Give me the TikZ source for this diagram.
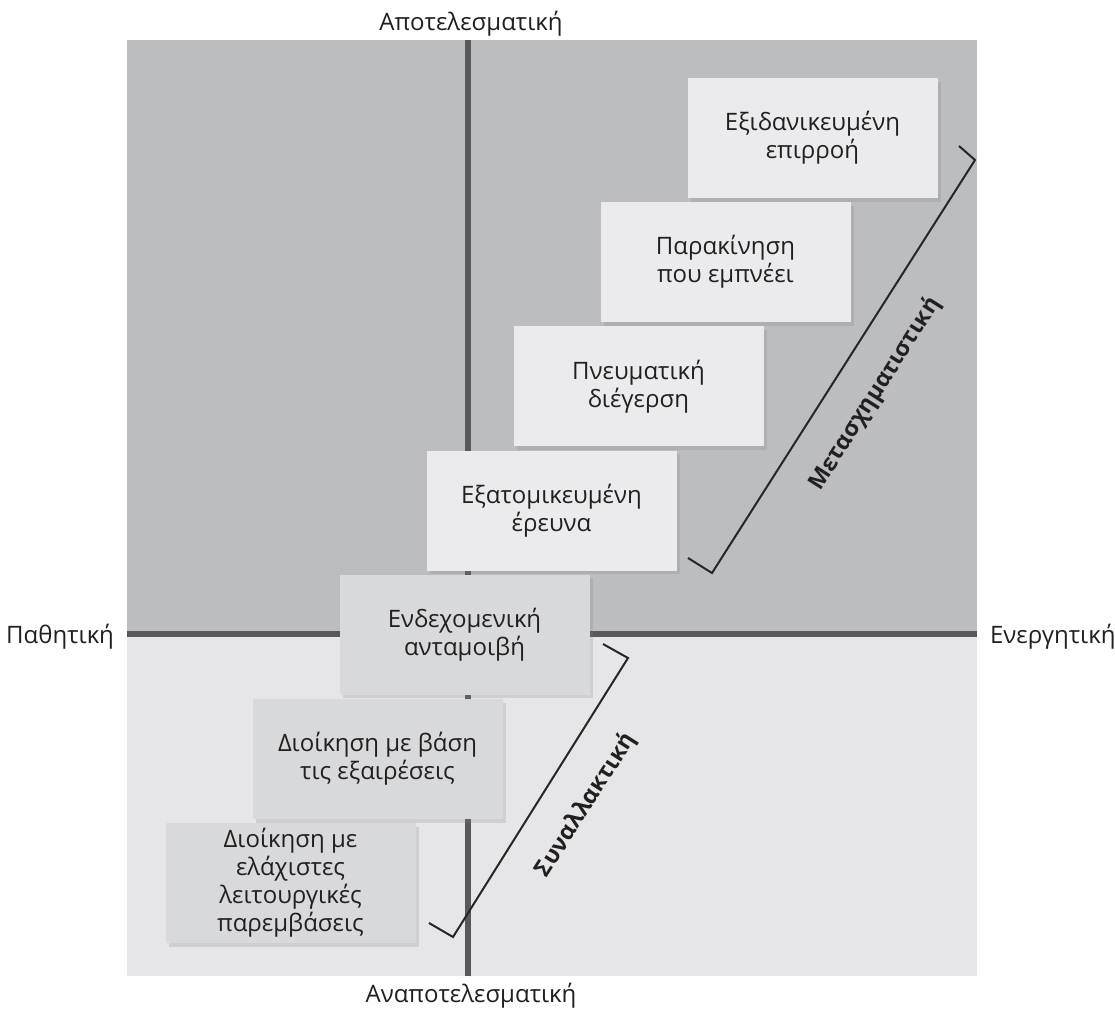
\documentclass[tikz,border=0pt]{standalone}
\usepackage{fontspec}
\setmainfont{Open Sans}
\usetikzlibrary{positioning,shadows}

\definecolor{bgtop}{HTML}{BCBDC0}
\definecolor{bgbottom}{HTML}{E6E6E8}
\definecolor{axisgray}{HTML}{58595B}
\definecolor{boxlight}{HTML}{EBEBED}
\definecolor{boxmid}{HTML}{D8D9DB}
\definecolor{textdark}{HTML}{231F20}

\begin{document}
\begin{tikzpicture}[
        x=0.5pt, y=-0.5pt,
        node distance=1.7pt,
        level/.style={rectangle, fill=boxlight, minimum width=125pt, minimum height=60pt, inner sep=1pt, align=center, text=textdark, font=\fontsize{12}{14}\selectfont, drop shadow={shadow xshift=1.5pt, shadow yshift=-1.8pt, opacity=0.22}},
        lowlevel/.style={level, fill=boxmid},
        axis/.style={draw=axisgray, line width=3pt},
        axislabel/.style={text=textdark, font=\fontsize{12}{14}\selectfont},
        bracket/.style={draw=black!85, line width=1pt},
        bracketlabel/.style={text=textdark, font=\fontsize{11.5}{14}\selectfont\bfseries, rotate=57.5}
    ]
        \useasboundingbox (0,0) rectangle (1115,1010);

        % Quadrant background
        \fill[bgtop] (127,40) rectangle (977,634);
        \fill[bgbottom] (127,634) rectangle (977,976);

        % Axes
        \coordinate (ytop) at (468,40);
        \coordinate (ybottom) at (468,976);
        \coordinate (xleft) at (127,634);
        \coordinate (xright) at (977,634);
        \draw[axis] (ytop) -- (ybottom);
        \draw[axis] (xleft) -- (xright);

        % Axis labels
        \node[axislabel] (effective) at (471,24) {Αποτελεσματική};
        \node[axislabel] (ineffective) at (471,996) {Αναποτελεσματική};
        \node[axislabel, anchor=east] (passive) at (121,637) {Παθητική};
        \node[axislabel, anchor=west] (active) at (983,637) {Ενεργητική};

        % Leadership levels
        \node[level] (ideal) at (812.5,138) {Εξιδανικευμένη\\επιρροή};
        \node[level, below=of ideal, xshift=-43.5pt] (inspire) {Παρακίνηση\\που εμπνέει};
        \node[level, below=of inspire, xshift=-43.5pt] (stimul) {Πνευματική\\διέγερση};
        \node[level, below=of stimul, xshift=-43.5pt] (consid) {Εξατομικευμένη\\έρευνα};
        \node[lowlevel, below=of consid, xshift=-43.5pt] (reward) {Ενδεχομενική\\ανταμοιβή};
        \node[lowlevel, below=of reward, xshift=-43.5pt] (except) {Διοίκηση με βάση\\τις εξαιρέσεις};
        \node[lowlevel, below=of except, xshift=-43.5pt] (laissez) {Διοίκηση με\\ελάχιστες\\λειτουργικές\\παρεμβάσεις};

        % Transformational bracket
        \coordinate (tftick) at (959,146);
        \coordinate (tftop) at (975,160);
        \coordinate (tfbottom) at (712,573);
        \coordinate (tfend) at (688,558);
        \draw[bracket] (tftick) -- (tftop) -- (tfbottom) -- (tfend);
        \node[bracketlabel] (transform) at (875,394) {Μετασχηματιστική};

        % Transactional bracket
        \coordinate (tatick) at (603,644);
        \coordinate (tatop) at (628,658);
        \coordinate (tabottom) at (453,937);
        \coordinate (taend) at (429,923);
        \draw[bracket] (tatick) -- (tatop) -- (tabottom) -- (taend);
        \node[bracketlabel] (transact) at (586,805) {Συναλλακτική};
    \end{tikzpicture}
\end{document}
